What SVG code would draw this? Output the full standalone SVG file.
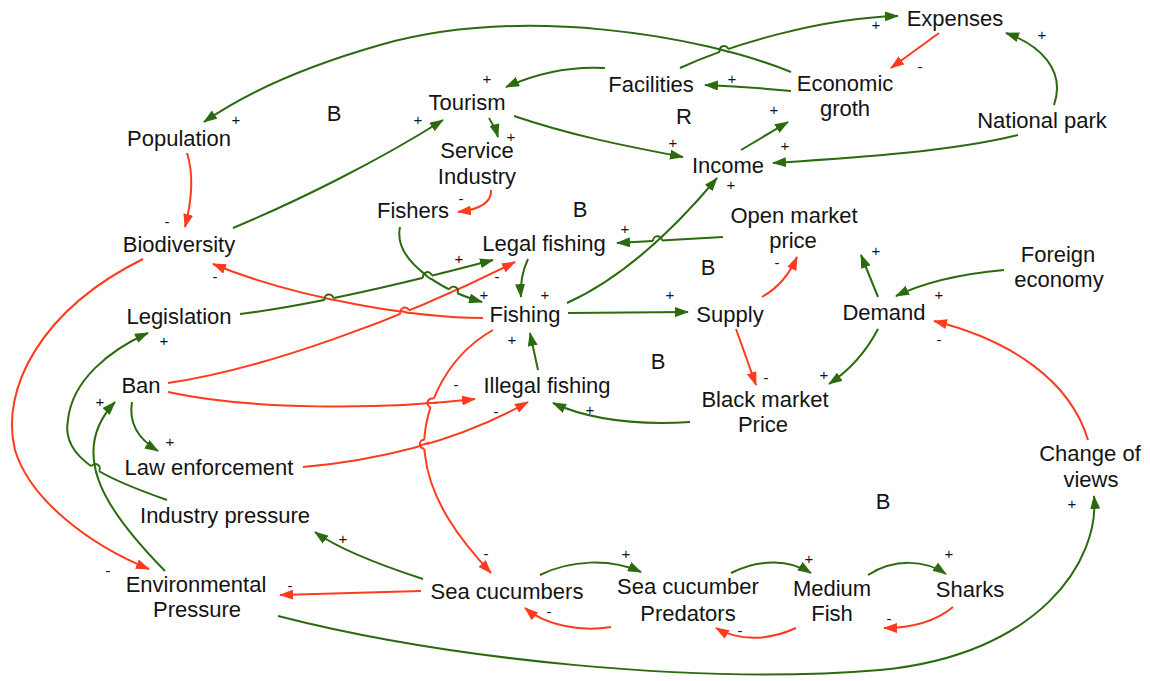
<svg xmlns="http://www.w3.org/2000/svg" width="1150" height="681" viewBox="0 0 1150 681">
  <style>
    .n { font-family: "Liberation Sans", Arial, sans-serif; font-size: 22px; fill: #141414; text-anchor: middle; }
    .s { font-family: "Liberation Sans", Arial, sans-serif; font-size: 15px; fill: #141414; text-anchor: middle; }
    .g { fill: none; stroke: #2c6a10; stroke-width: 2; marker-end: url(#ag); }
    .r { fill: none; stroke: #ff3b1e; stroke-width: 2; marker-end: url(#ar); }
    .gl { fill: none; stroke: #2c6a10; stroke-width: 2; }
    .rl { fill: none; stroke: #ff3b1e; stroke-width: 2; }
    .gap { fill: none; stroke: #ffffff; stroke-width: 4.5; }
  </style>
  <defs>
    <marker id="ag" viewBox="0 0 14 10" refX="13" refY="5" markerWidth="14" markerHeight="10" markerUnits="userSpaceOnUse" orient="auto">
      <path d="M0,0 L14,5 L0,10 z" fill="#2c6a10"/>
    </marker>
    <marker id="ar" viewBox="0 0 14 10" refX="13" refY="5" markerWidth="14" markerHeight="10" markerUnits="userSpaceOnUse" orient="auto">
      <path d="M0,0 L14,5 L0,10 z" fill="#ff3b1e"/>
    </marker>
    <!-- line-jump pieces: a white gap along the jumping line and the arc that bridges it -->
    <path id="jgap" class="gap" d="M-4.5,0 H4.5"/>
    <path id="jarcG" class="gl" d="M-4.5,0 A4.5,4.5 0 0 1 4.5,0"/>
    <path id="jarcR" class="rl" d="M-4.5,0 A4.5,4.5 0 0 1 4.5,0"/>
  </defs>
  <rect width="1150" height="681" fill="#ffffff"/>

  <!-- links between the variables -->
  <g id="connectors">
    <path class="g" d="M791,72 C700,35 520,5 380,45 C310,65 250,90 204,122"/>
    <path class="g" d="M791,91 C760,88 730,86 705,85"/>
    <path class="g" d="M680,68 C730,45 820,18 898,16"/>
    <path class="r" d="M939,33 L891,68"/>
    <path class="g" d="M1054,105 C1066,70 1040,45 1006,33"/>
    <path class="g" d="M1018,135 C950,152 850,158 773,163"/>
    <path class="g" d="M514,116 C570,135 620,145 683,157"/>
    <path class="g" d="M605,68 C570,66 535,74 506,87"/>
    <path class="g" d="M489,118 C493,124 496,130 498,137"/>
    <path class="g" d="M741,150 L788,122"/>
    <path class="g" d="M567,303 Q640,270 717,178"/>
    <path class="g" d="M723,237 L617,243"/>
    <path class="r" d="M762,297 C778,288 790,273 797,257"/>
    <path class="g" d="M568,313 L688,312"/>
    <path class="r" d="M736,329 L756,385"/>
    <path class="g" d="M878,297 L861,255"/>
    <path class="g" d="M1004,270 C960,274 925,282 896,296"/>
    <path class="g" d="M878,329 C866,352 850,370 829,384"/>
    <path class="r" d="M1088,440 C1070,380 1010,340 934,321"/>
    <path class="g" d="M690,422 C640,425 590,420 553,403"/>
    <path class="g" d="M538,370 L530,333"/>
    <path class="g" d="M528,259 C522,272 520,284 521,297"/>
    <path class="g" d="M400,227 C393,260 440,290 482,302"/>
    <path class="r" d="M491,190 C492,205 475,210 458,212"/>
    <path class="g" d="M240,314 Q330,303 493,260"/>
    <path class="r" d="M483,318 C420,318 300,300 213,264"/>
    <path class="r" d="M168,383 C260,370 400,320 515,262"/>
    <path class="r" d="M168,392 C250,410 380,410 475,399"/>
    <path class="r" d="M303,467 C380,460 460,440 528,402"/>
    <path class="r" d="M493,330 C440,360 420,420 425,455 C430,500 460,540 491,573"/>
    <path class="g" d="M423,579 C380,565 340,550 315,532"/>
    <path class="r" d="M421,591 L280,595"/>
    <path class="g" d="M278,616 C450,660 700,685 880,670 C1040,655 1100,560 1094,496"/>
    <path class="g" d="M540,575 C570,560 610,558 641,572"/>
    <path class="r" d="M611,627 C580,632 545,625 525,608"/>
    <path class="g" d="M731,573 C760,558 790,560 811,573"/>
    <path class="r" d="M796,628 C770,640 740,642 716,628"/>
    <path class="g" d="M868,575 C895,558 925,560 946,574"/>
    <path class="r" d="M953,607 C935,622 910,628 884,628"/>
    <path class="g" d="M167,500 C110,480 60,460 68,420 C72,380 110,350 148,333"/>
    <path class="g" d="M165,571 C110,515 65,455 115,402"/>
    <path class="g" d="M132,402 C128,425 140,440 158,451"/>
    <path class="r" d="M143,259 C40,310 0,390 15,450 C30,500 90,545 149,569"/>
    <path class="r" d="M187,153 C194,175 192,200 185,227"/>
    <path class="g" d="M233,228 C300,200 380,160 443,120"/>

    <!-- line jumps where two links cross -->
    <g id="jumps">
      <g transform="translate(724,50.5)">
        <use href="#jgap" transform="rotate(-19)"/>
        <path class="gl" d="M-4.9,-1.2 L4.9,1.2"/>
        <use href="#jarcG" transform="rotate(-19)"/>
      </g>
      <g transform="translate(329,299)">
        <use href="#jgap" transform="rotate(-10.8)"/>
        <path class="rl" d="M-4.9,-1 L4.9,1"/>
        <use href="#jarcG" transform="rotate(-10.8)"/>
      </g>
      <g transform="translate(427.5,276.6)">
        <use href="#jgap" transform="rotate(-13.5)"/>
        <path class="gl" d="M-4,-2.9 L4,2.9"/>
        <use href="#jarcG" transform="rotate(-13.5)"/>
      </g>
      <g transform="translate(453.5,291.2)">
        <use href="#jgap" transform="rotate(26)"/>
        <path class="rl" d="M-4.6,2 L4.6,-2"/>
        <use href="#jarcG" transform="rotate(26)"/>
      </g>
      <g transform="translate(404.8,312)">
        <use href="#jgap" transform="rotate(-21.4)"/>
        <path class="rl" d="M-4.9,-1.2 L4.9,1.2"/>
        <use href="#jarcR" transform="rotate(-21.4)"/>
      </g>
      <g transform="translate(657.5,240.8)">
        <use href="#jgap" transform="rotate(-3.2)"/>
        <path class="gl" d="M-3.7,3.3 L3.7,-3.3"/>
        <use href="#jarcG" transform="rotate(-3.2)"/>
      </g>
      <g transform="translate(432,403)">
        <use href="#jgap" transform="rotate(-72)"/>
        <path class="rl" d="M-5,0.35 L5,-0.35"/>
        <use href="#jarcR" transform="rotate(-72)"/>
      </g>
      <g transform="translate(424.3,444.2)">
        <use href="#jgap" transform="rotate(-88)"/>
        <path class="rl" d="M-4.8,1.4 L4.8,-1.4"/>
        <use href="#jarcR" transform="rotate(-88)"/>
      </g>
      <g transform="translate(95.3,468.5)">
        <use href="#jgap" transform="rotate(31)"/>
        <path class="gl" d="M-1.1,-4.9 L1.1,4.9"/>
        <use href="#jarcG" transform="rotate(31)"/>
      </g>
    </g>
  </g>

  <!-- polarity signs -->
  <g id="signs">
    <text class="s" x="236" y="125">+</text>
    <text class="s" x="487" y="84">+</text>
    <text class="s" x="418" y="125">+</text>
    <text class="s" x="511" y="142">+</text>
    <text class="s" x="732" y="84">+</text>
    <text class="s" x="876" y="30">+</text>
    <text class="s" x="920" y="72">-</text>
    <text class="s" x="1042" y="40">+</text>
    <text class="s" x="774" y="115">+</text>
    <text class="s" x="785" y="151">+</text>
    <text class="s" x="673" y="148">+</text>
    <text class="s" x="731" y="190">+</text>
    <text class="s" x="461" y="204">-</text>
    <text class="s" x="167" y="227">-</text>
    <text class="s" x="625" y="234">+</text>
    <text class="s" x="777" y="268">-</text>
    <text class="s" x="876" y="256">+</text>
    <text class="s" x="459" y="264">+</text>
    <text class="s" x="497" y="282">-</text>
    <text class="s" x="215" y="282">-</text>
    <text class="s" x="484" y="300">+</text>
    <text class="s" x="545" y="300">+</text>
    <text class="s" x="670" y="300">+</text>
    <text class="s" x="939" y="300">+</text>
    <text class="s" x="939" y="345">-</text>
    <text class="s" x="164" y="346">+</text>
    <text class="s" x="512" y="345">+</text>
    <text class="s" x="456" y="390">-</text>
    <text class="s" x="766" y="383">-</text>
    <text class="s" x="824" y="380">+</text>
    <text class="s" x="100" y="407">+</text>
    <text class="s" x="170" y="447">+</text>
    <text class="s" x="590" y="415">+</text>
    <text class="s" x="496" y="417">-</text>
    <text class="s" x="1072" y="509">+</text>
    <text class="s" x="343" y="544">+</text>
    <text class="s" x="486" y="559">-</text>
    <text class="s" x="626" y="559">+</text>
    <text class="s" x="809" y="564">+</text>
    <text class="s" x="949" y="559">+</text>
    <text class="s" x="108" y="576">-</text>
    <text class="s" x="290" y="591">-</text>
    <text class="s" x="549" y="617">-</text>
    <text class="s" x="889" y="624">-</text>
    <text class="s" x="740" y="636">-</text>
  </g>

  <!-- loop markers -->
  <g id="loops">
    <text class="n" x="334" y="121">B</text>
    <text class="n" x="684" y="124">R</text>
    <text class="n" x="580" y="217">B</text>
    <text class="n" x="708" y="275">B</text>
    <text class="n" x="658" y="369">B</text>
    <text class="n" x="883" y="509">B</text>
  </g>

  <!-- variables -->
  <g id="population"><text class="n" x="179" y="146">Population</text></g>
  <g id="tourism"><text class="n" x="467" y="110">Tourism</text></g>
  <g id="service-industry"><text class="n" x="477" y="158">Service</text><text class="n" x="477" y="184">Industry</text></g>
  <g id="facilities"><text class="n" x="651" y="92">Facilities</text></g>
  <g id="expenses"><text class="n" x="955" y="26">Expenses</text></g>
  <g id="economic-groth"><text class="n" x="845" y="91">Economic</text><text class="n" x="845" y="116">groth</text></g>
  <g id="national-park"><text class="n" x="1042" y="128">National park</text></g>
  <g id="income"><text class="n" x="728" y="173">Income</text></g>
  <g id="biodiversity"><text class="n" x="179" y="252">Biodiversity</text></g>
  <g id="fishers"><text class="n" x="413" y="218">Fishers</text></g>
  <g id="legal-fishing"><text class="n" x="544" y="251">Legal fishing</text></g>
  <g id="open-market-price"><text class="n" x="794" y="223">Open market</text><text class="n" x="793" y="248">price</text></g>
  <g id="legislation"><text class="n" x="179" y="324">Legislation</text></g>
  <g id="fishing"><text class="n" x="525" y="322">Fishing</text></g>
  <g id="supply"><text class="n" x="730" y="322">Supply</text></g>
  <g id="demand"><text class="n" x="884" y="320">Demand</text></g>
  <g id="foreign-economy"><text class="n" x="1058" y="262">Foreign</text><text class="n" x="1059" y="287">economy</text></g>
  <g id="ban"><text class="n" x="141" y="393">Ban</text></g>
  <g id="illegal-fishing"><text class="n" x="547" y="393">Illegal fishing</text></g>
  <g id="black-market-price"><text class="n" x="765" y="407">Black market</text><text class="n" x="763" y="432">Price</text></g>
  <g id="law-enforcement"><text class="n" x="209" y="475">Law enforcement</text></g>
  <g id="change-of-views"><text class="n" x="1090" y="461">Change of</text><text class="n" x="1091" y="487">views</text></g>
  <g id="industry-pressure"><text class="n" x="225" y="523">Industry pressure</text></g>
  <g id="environmental-pressure"><text class="n" x="196" y="592">Environmental</text><text class="n" x="197" y="617">Pressure</text></g>
  <g id="sea-cucumbers"><text class="n" x="507" y="599">Sea cucumbers</text></g>
  <g id="sea-cucumber-predators"><text class="n" x="688" y="594">Sea cucumber</text><text class="n" x="688" y="621">Predators</text></g>
  <g id="medium-fish"><text class="n" x="832" y="596">Medium</text><text class="n" x="832" y="621">Fish</text></g>
  <g id="sharks"><text class="n" x="970" y="597">Sharks</text></g>
</svg>
